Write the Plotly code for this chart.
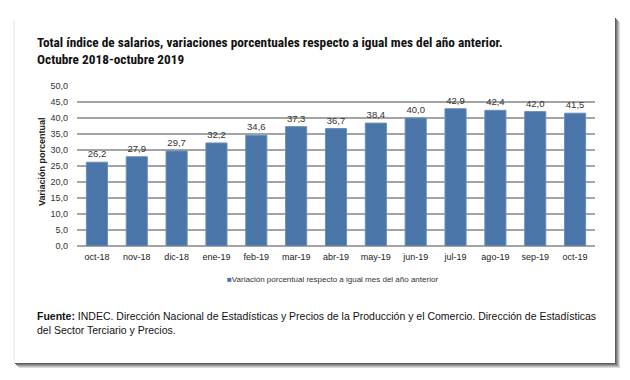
import plotly.graph_objects as go

categories = ["oct-18", "nov-18", "dic-18", "ene-19", "feb-19", "mar-19", "abr-19",
              "may-19", "jun-19", "jul-19", "ago-19", "sep-19", "oct-19"]
values = [26.2, 27.9, 29.7, 32.2, 34.6, 37.3, 36.7, 38.4, 40.0, 42.9, 42.4, 42.0, 41.5]
series_name = "Variación porcentual respecto a igual mes del año anterior"
title_lines = ["Total índice de salarios, variaciones porcentuales respecto a igual mes del año anterior.",
               "Octubre 2018-octubre 2019"]
y_title = "Variación porcentual"
source_lines = ["<b>Fuente:</b> INDEC. Dirección Nacional de Estadísticas y Precios de la Producción y el Comercio. Dirección de Estadísticas",
                "del Sector Terciario y Precios."]

W, H = 630, 380
L, R, T, B = 77, 595, 86, 246
BAR_COLOR = "#4a75a8"


def px(x):
    return (x - L) / (R - L)


def py(y):
    return (B - y) / (B - T)


fig = go.Figure()
fig.add_trace(go.Bar(
    x=categories, y=values, name=series_name, showlegend=False,
    marker=dict(color=BAR_COLOR, line=dict(color="#6b8fbb", width=1)),
    texttemplate="%{y:.1f}", textposition="outside",
    textfont=dict(size=9.5, color="#333333", family="Liberation Sans, Arial"),
    cliponaxis=False,
))

shapes = []
# card shadow (right & bottom)
shadow_cols = ["#dcdcdc", "#bcbcbc", "#9a9a9a", "#7a7a7a", "#5c5c5c"]
for i, c in enumerate(shadow_cols):
    off = 5 - i
    shapes.append(dict(type="rect", xref="paper", yref="paper", layer="below",
                       x0=px(14 + off), x1=px(615 + off), y0=py(17 + off), y1=py(363 + off),
                       fillcolor=c, line=dict(width=0)))
# card
shapes.append(dict(type="rect", xref="paper", yref="paper", layer="below",
                   x0=px(14), x1=px(615), y0=py(17), y1=py(363),
                   fillcolor="white", line=dict(width=0)))
shapes.append(dict(type="line", xref="paper", yref="paper", layer="below",
                   x0=px(14), x1=px(14), y0=py(20), y1=py(363),
                   line=dict(color="#e4e4e4", width=1)))

TITLE_FONT = dict(size=13.3, color="#111111", family="Roboto Condensed, Liberation Sans, Arial", weight="bold")
annotations = []
annotations.append(dict(xref="paper", yref="paper", x=px(35), y=py(42), xanchor="left", yanchor="middle",
                        text=title_lines[0], showarrow=False, font=TITLE_FONT))
annotations.append(dict(xref="paper", yref="paper", x=px(35), y=py(60), xanchor="left", yanchor="middle",
                        text=title_lines[1], showarrow=False, font=TITLE_FONT))
annotations.append(dict(xref="paper", yref="paper", x=px(42), y=py(162), xanchor="center", yanchor="middle",
                        text="<b>" + y_title + "</b>", showarrow=False, textangle=-90,
                        font=dict(size=9, color="#222222", family="Liberation Sans, Arial")))
annotations.append(dict(xref="paper", yref="paper", x=px(332), y=py(279), xanchor="center", yanchor="middle",
                        text="<span style='color:" + BAR_COLOR + "'>■</span>" + series_name, showarrow=False,
                        font=dict(size=8, color="#333333", family="Liberation Sans, Arial")))
annotations.append(dict(xref="paper", yref="paper", x=px(35), y=py(316), xanchor="left", yanchor="middle",
                        text=source_lines[0], showarrow=False,
                        font=dict(size=10.5, color="#111111", family="Liberation Sans, Arial")))
annotations.append(dict(xref="paper", yref="paper", x=px(35), y=py(330), xanchor="left", yanchor="middle",
                        text=source_lines[1], showarrow=False,
                        font=dict(size=10.5, color="#111111", family="Liberation Sans, Arial")))

fig.update_layout(
    width=W, height=H,
    margin=dict(l=L, r=W - R, t=T, b=H - B),
    paper_bgcolor="white", plot_bgcolor="rgba(0,0,0,0)",
    separators=",.",
    bargap=0.47,
    showlegend=False,
    shapes=shapes,
    annotations=annotations,
    font=dict(family="Liberation Sans, Arial", color="#333333"),
)
fig.update_yaxes(range=[0, 50], dtick=5, tickformat=".1f", showgrid=True,
                 gridcolor="#a4a4a4", gridwidth=1.5, zeroline=True, zerolinecolor="#a4a4a4",
                 zerolinewidth=1.5, ticks="", ticklabelstandoff=8,
                 tickfont=dict(size=9, color="#333333"), fixedrange=True)
fig.update_xaxes(showgrid=False, showline=False, ticks="", tickfont=dict(size=9, color="#222222"),
                 ticklabelstandoff=4, fixedrange=True)

fig.write_html("out.html", post_script="document.body.style.margin='0'",
               config={"displayModeBar": False})
